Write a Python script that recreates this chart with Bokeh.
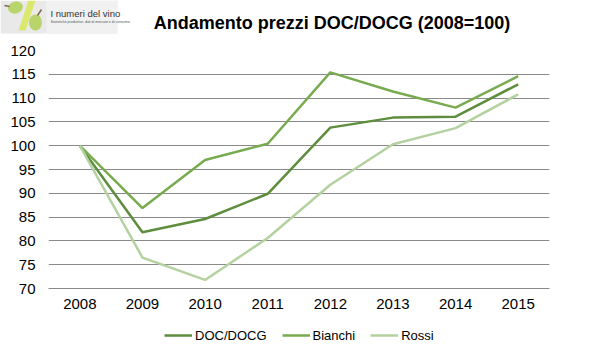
import math
from bokeh.plotting import figure
from bokeh.models import (Range1d, FixedTicker, Legend, LegendItem, ColumnDataSource)
from bokeh.layouts import column
from bokeh.core.properties import value
from bokeh.embed import file_html
from bokeh.resources import INLINE

years = [2008, 2009, 2010, 2011, 2012, 2013, 2014, 2015]
doc_docg = [100, 81.8, 84.6, 89.9, 103.8, 105.9, 106.1, 112.9]
bianchi = [100, 86.9, 97.0, 100.4, 115.4, 111.4, 108.0, 114.6]
rossi = [100, 76.5, 71.8, 80.6, 91.8, 100.3, 103.7, 110.8]
y_ticks = [70, 75, 80, 85, 90, 95, 100, 105, 110, 115, 120]
series_names = ["DOC/DOCG", "Bianchi", "Rossi"]
series_colors = ["#5d8d3d", "#78ab4f", "#b3d2a0"]
title_text = "Andamento prezzi DOC/DOCG (2008=100)"

W = 596


def strip(height):
    f = figure(width=W, height=height, x_range=Range1d(0, W), y_range=Range1d(0, height),
               output_backend="svg", toolbar_location=None, min_border=0)
    f.frame_align = False
    f.axis.visible = False
    f.grid.visible = False
    f.outline_line_color = None
    return f


# ---- top strip: logo + title ----
top = strip(42)
top.quad(left=[0], right=[117], bottom=[9], top=[42], fill_color="#e9e9e9", line_color=None)
top.quad(left=[46], right=[117], bottom=[9], top=[42], fill_color="#f1f1f1", line_color=None)
top.patch(x=[28, 35, 25, 18], y=[42, 42, 12, 12], fill_color="#dbe86e", line_color=None)
top.ellipse(x=[15], y=[35], width=15, height=12, angle=0.3, fill_color="#b9d46a", line_color=None)
top.ellipse(x=[35], y=[20], width=13, height=16, fill_color="#b9d46a", line_color=None)
top.line(x=[4, 9], y=[37, 36], line_color="#7a6a4a", line_width=1.5)
top.line(x=[37, 41], y=[27, 33], line_color="#7a6a4a", line_width=1.5)
top.text(x=[50], y=[29], text=["I numeri del vino"], text_font=value("Liberation Sans"),
         text_font_size="9.5px", text_color="#333333", text_baseline="middle")
top.text(x=[50], y=[20.5], text=["Statistiche produttive, dati di mercato e di consumo."],
         text_font=value("Liberation Sans"), text_font_size="3.5px", text_color="#555555",
         text_baseline="middle")
top.text(x=[331.5], y=[20], text=[title_text], text_font=value("Liberation Sans"),
         text_font_style="bold", text_font_size="18px", text_color="#000000",
         text_align="center", text_baseline="middle")

# ---- main chart ----
p = figure(width=W, height=278, x_range=Range1d(2007.5, 2015.5), y_range=Range1d(70, 120),
           output_backend="svg", toolbar_location=None,
           min_border_left=48, min_border_right=47, min_border_top=8, min_border_bottom=32)
p.frame_align = False
p.outline_line_color = None
p.xgrid.visible = False
p.ygrid.grid_line_color = "#8a8a8a"
p.ygrid.grid_line_width = 1

p.xaxis.ticker = FixedTicker(ticks=years)
p.yaxis.ticker = FixedTicker(ticks=y_ticks)
for ax in (p.xaxis[0], p.yaxis[0]):
    ax.major_tick_line_color = None
    ax.minor_tick_line_color = None
    ax.major_tick_in = 0
    ax.major_tick_out = 0
    ax.major_label_text_font = "Liberation Sans"
    ax.major_label_text_font_size = "15px"
    ax.major_label_text_color = "#000000"
p.yaxis.axis_line_color = None
p.yaxis.major_label_standoff = 13
p.xaxis.axis_line_color = "#8a8a8a"
p.xaxis.major_label_standoff = 10

src = ColumnDataSource(dict(year=years, doc=doc_docg, bianchi=bianchi, rossi=rossi))
for col, color in zip(["doc", "bianchi", "rossi"], series_colors):
    p.line("year", col, source=src, line_color=color, line_width=2.5)

# ---- bottom strip: legend ----
bottom = strip(38)
nan = float("nan")
key_renderers = [bottom.line(x=[nan, nan], y=[nan, nan], line_color=c, line_width=2.5)
                 for c in series_colors]
legend = Legend(items=[LegendItem(label=n, renderers=[r]) for n, r in zip(series_names, key_renderers)],
                orientation="horizontal", location=(164, 15),
                padding=0, margin=0, spacing=15, label_standoff=3,
                glyph_width=28, glyph_height=16, label_height=16,
                label_text_font="Liberation Sans", label_text_font_size="13px",
                label_text_color="#000000", border_line_color=None,
                background_fill_alpha=0)
bottom.add_layout(legend, "center")

layout = column(top, p, bottom, spacing=0)
open("out.html", "w").write(file_html(layout, INLINE))
